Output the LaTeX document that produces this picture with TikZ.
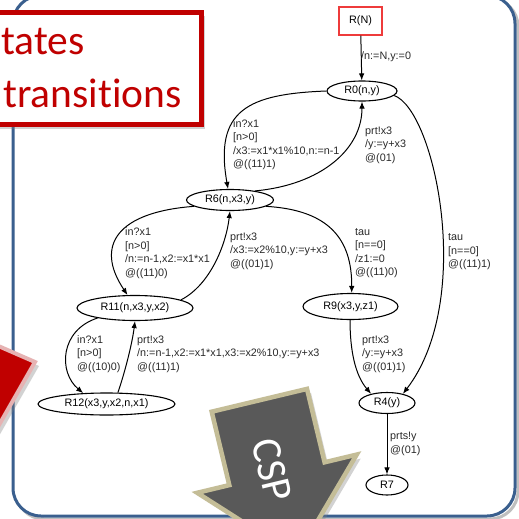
\documentclass[tikz,border=0pt]{standalone}
\usepackage{fontspec}
\setmainfont{Liberation Sans}
\newfontfamily\calibri{Carlito}[Ligatures=NoCommon]
\usetikzlibrary{shapes.geometric,arrows.meta,shadows}

\definecolor{frameblue}{HTML}{3A5F8E}
\definecolor{calloutred}{HTML}{C00000}
\definecolor{startred}{HTML}{EE3B3B}
\definecolor{arrowgray}{HTML}{595959}
\definecolor{arrowtan}{HTML}{C4BD97}
\definecolor{pinkedge}{HTML}{E6B3B3}
\definecolor{labelgray}{HTML}{2A2A2A}

\begin{document}
\begin{tikzpicture}[x=1pt,y=-1pt,
  state/.style={ellipse, draw, line width=1.1pt, inner sep=0pt,
    font=\fontsize{10.8}{13}\selectfont},
  startbox/.style={draw=startred, line width=1.2pt, inner sep=0pt,
    minimum width=43pt, minimum height=28pt, font=\fontsize{10.8}{13}\selectfont},
  lbl/.style={anchor=west, align=left, inner sep=0pt, text=labelgray,
    font=\fontsize{10.8}{13.5}\selectfont},
  trans/.style={line width=1pt, -{Latex[length=7pt,width=5.5pt]}},
  softshadow/.style={drop shadow={opacity=0.35, shadow xshift=4pt, shadow yshift=-4pt}},
  callouttext/.style={anchor=base west, inner sep=0pt, text=calloutred,
    font=\calibri\fontsize{41.5}{41.5}\selectfont},
]
\useasboundingbox (0,0) rectangle (519,519);
\clip (0,0) rectangle (519,519);
\fill[white] (0,0) rectangle (519,519);

% rounded frame with a light shadow
\draw[black!25, line width=3pt, rounded corners=28pt] (16,-1.5) rectangle (518,519);
\draw[frameblue, line width=3pt, fill=white, rounded corners=28pt] (13,-4.5) rectangle (515,516);

% states
\node[startbox] (rn) at (360.5,21) {R(N)};
\node[state, minimum width=70pt,  minimum height=20pt] (r0)  at (362,91)    {R0(n,y)};
\node[state, minimum width=87pt,  minimum height=21pt] (r6)  at (230,200)   {R6(n,x3,y)};
\node[state, minimum width=116pt, minimum height=25pt] (r11) at (135,308)   {R11(n,x3,y,x2)};
\node[state, minimum width=137pt, minimum height=22pt] (r12) at (106.5,404) {R12(x3,y,x2,n,x1)};
\node[state, minimum width=95pt,  minimum height=26pt] (r9)  at (350.5,306.5) {R9(x3,y,z1)};
\node[state, minimum width=56pt,  minimum height=21pt] (r4)  at (387,403)   {R4(y)};
\node[state, minimum width=42pt,  minimum height=20pt] (r7)  at (387,485)   {R7};

% transitions
\draw[trans] (rn) -- (r0);
\draw[trans] (r0.west) .. controls (248,94) and (214,110) .. (r6.100);
\draw[trans] (r6.20) .. controls (320,185) and (362,150) .. (r0.south);
\draw[trans] (r0.-8) .. controls (435,110) and (475,300) .. (r4.30);
\draw[trans] (r6.190) .. controls (118,212) and (94,245) .. (r11.120);
\draw[trans] (r11.10) .. controls (210,285) and (226,245) .. (r6.-90);
\draw[trans] (r6.-10) .. controls (330,210) and (352,240) .. (r9.85);
\draw[trans] (r11.-165) .. controls (60,330) and (58,372) .. (r12.155);
\draw[trans] (r12.45) .. controls (124,375) and (132,345) .. (r11.-90);
\draw[trans] (r9.-92) .. controls (350,350) and (355,375) .. (r4.150);
\draw[trans] (r4) -- (r7);

% transition labels
\node[lbl] (l1)  at (361,57)    {/n:=N,y:=0};
\node[lbl] (l2)  at (233,144.5) {in?x1\\{}[n>0]\\/x3:=x1*x1\%10,n:=n-1\\@((11)1)};
\node[lbl] (l3)  at (365,145)   {prt!x3\\/y:=y+x3\\@(01)};
\node[lbl] (l4)  at (448,252)   {tau\\{}[n==0]\\@((11)1)};
\node[lbl] (l5)  at (125,253)   {in?x1\\{}[n>0]\\/n:=n-1,x2:=x1*x1\\@((11)0)};
\node[lbl] (l6)  at (230,251)   {prt!x3\\/x3:=x2\%10,y:=y+x3\\@((01)1)};
\node[lbl] (l7)  at (355,253)   {tau\\{}[n==0]\\/z1:=0\\@((11)0)};
\node[lbl] (l8)  at (77,354)    {in?x1\\{}[n>0]\\@((10)0)};
\node[lbl] (l9)  at (137,354)   {prt!x3\\/n:=n-1,x2:=x1*x1,x3:=x2\%10,y:=y+x3\\@((11)1)};
\node[lbl] (l10) at (362,354)   {prt!x3\\/y:=y+x3\\@((01)1)};
\node[lbl] (l11) at (390,444)   {prts!y\\@(01)};

% callout box
\draw[calloutred, line width=5pt, fill=white, softshadow] (-20,12.5) rectangle (201,124.5);
\node[callouttext] (c1) at (1,55) {tates};
\node[callouttext] (c2) at (3,107) {transitions};

% red block arrow entering from the left
\draw[pinkedge, line width=4pt, fill=calloutred, line join=miter, softshadow]
  (-20,338) -- (35,362) -- (-5,432) -- cycle;

% CSP block arrow
\draw[arrowtan, line width=4.5pt, fill=arrowgray, line join=miter, softshadow]
  (211.7,411.7) -- (307,388.9) -- (324.6,462.3) -- (356.7,454.6)
  -- (296.8,556.3) -- (197.2,492.8) -- (229.3,485.1) -- cycle;
\node[rotate=-76.5, text=white, inner sep=0pt,
  font=\calibri\fontsize{42}{42}\selectfont] (csp) at (272,470) {CSP};
\end{tikzpicture}
\end{document}
